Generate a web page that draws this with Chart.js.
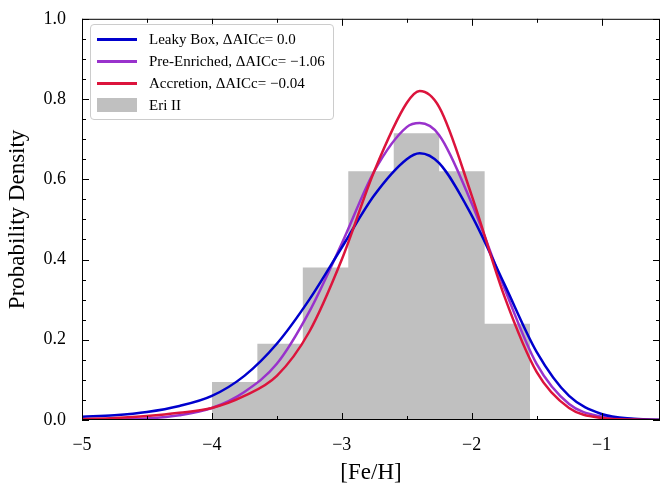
<!DOCTYPE html>
<html><head><meta charset="utf-8">
<script src="https://cdn.jsdelivr.net/npm/chart.js@4"></script>
<style>
body{margin:0;background:#fff}
#wrap{position:relative;width:660px;height:491px}
#legend{position:absolute;left:90px;top:24px;border:1px solid #ccc;border-radius:4px;background:rgba(255,255,255,0.85);padding:3px 8px 3px 6px;font-family:'Liberation Serif',serif;font-size:15px;line-height:22px}
#legend div{display:flex;align-items:center}
#legend span.s{display:inline-block;width:40px;height:3px;margin-right:12px}
</style></head><body>
<div id="wrap"><canvas id="c" width="660" height="491"></canvas>
<div id="legend"></div></div>
<script>
const xs = [-5,-4.75,-4.5,-4.25,-4,-3.75,-3.5,-3.25,-3,-2.75,-2.5,-2.4,-2.25,-2,-1.75,-1.5,-1.25,-1,-0.75,-0.5];
const leaky = [0.008,0.012,0.02,0.035,0.06,0.11,0.19,0.3,0.43,0.56,0.65,0.665,0.64,0.51,0.34,0.17,0.06,0.015,0.003,0];
const preEnriched = [0,0.001,0.004,0.012,0.03,0.07,0.14,0.27,0.44,0.62,0.73,0.74,0.71,0.54,0.33,0.14,0.04,0.008,0.001,0];
const accretion = [0.002,0.005,0.01,0.018,0.03,0.06,0.11,0.22,0.40,0.62,0.79,0.82,0.78,0.56,0.31,0.12,0.03,0.005,0.001,0];
const binEdges = [-4,-3.65,-3.3,-2.95,-2.6,-2.25,-1.9,-1.55];
const binHeights = [0.095,0.19,0.38,0.62,0.715,0.62,0.24,0];
const labels = ['Leaky Box, ΔAICc= 0.0','Pre-Enriched, ΔAICc= −1.06','Accretion, ΔAICc= −0.04','Eri II'];
const cols = ['#0000cd','#9932cc','#dc143c','#c0c0c0'];
const xTicks = [-5,-4,-3,-2,-1];
const yTicks = [0,0.2,0.4,0.6,0.8,1.0];

const pts = a => xs.map((x,i)=>({x, y:a[i]}));
const hist = binEdges.map((x,i)=>({x, y:binHeights[i]}));
const serif = "'Liberation Serif', serif";
const fmt = v => (v<0?'−':'') + Math.abs(v);

const tickPlugin = {
  id:'ticks',
  afterDraw(ch){
    const c=ch.ctx, a=ch.chartArea, xs_=ch.scales.x, ys=ch.scales.y;
    c.save(); c.strokeStyle='#000'; c.lineWidth=1;
    c.strokeRect(a.left+0.5,a.top+0.5,a.right-a.left-1,a.bottom-a.top-1);
    const line=(x1,y1,x2,y2)=>{c.beginPath();c.moveTo(x1,y1);c.lineTo(x2,y2);c.stroke();};
    for(let v=-5;v<=-0.5;v+=0.5){
      const p=Math.round(xs_.getPixelForValue(v))+0.5, L=Number.isInteger(v)?7:4;
      line(p,a.bottom,p,a.bottom-L); line(p,a.top,p,a.top+L);
    }
    for(let k=0;k<=20;k++){
      const v=k*0.05, p=Math.round(ys.getPixelForValue(v))+0.5, L=k%4===0?7:4;
      line(a.left,p,a.left+L,p); line(a.right,p,a.right-L,p);
    }
    c.restore();
  }
};

const curve = {borderWidth:2.5,pointRadius:0,cubicInterpolationMode:'monotone'};
new Chart(document.getElementById('c'),{
  type:'line',
  data:{datasets:[
    {...curve,data:pts(leaky),borderColor:cols[0],order:1},
    {...curve,data:pts(preEnriched),borderColor:cols[1],order:2},
    {...curve,data:pts(accretion),borderColor:cols[2],order:0},
    {data:hist,stepped:'before',fill:'origin',backgroundColor:cols[3],borderWidth:0,pointRadius:0,order:3}
  ]},
  options:{
    responsive:false,animation:false,
    layout:{padding:{top:17,right:0}},
    plugins:{legend:{display:false},tooltip:{enabled:false}},
    scales:{
      x:{type:'linear',min:-5,max:-0.55,
        afterBuildTicks:s=>{s.ticks=xTicks.map(v=>({value:v}));},
        afterFit:s=>{s.height=71;},
        grid:{display:false},border:{display:false},
        ticks:{callback:fmt,color:'#000',font:{family:serif,size:18},padding:6},
        title:{display:true,text:'[Fe/H]',color:'#000',font:{family:serif,size:23},padding:{top:0}}},
      y:{min:0,max:1,
        afterBuildTicks:s=>{s.ticks=yTicks.map(v=>({value:v}));},
        afterFit:s=>{s.width=82;},
        grid:{display:false},border:{display:false},
        ticks:{callback:v=>v.toFixed(1),color:'#000',font:{family:serif,size:18},padding:8},
        title:{display:true,text:'Probability Density',color:'#000',font:{family:serif,size:23},padding:{bottom:4}}}
    }
  },
  plugins:[tickPlugin]
});

document.getElementById('legend').innerHTML = labels.map((l,i)=>
  `<div><span class="s" style="background:${cols[i]};${i===3?'height:14px;':''}"></span>${l}</div>`).join('');
</script>
</body></html>
